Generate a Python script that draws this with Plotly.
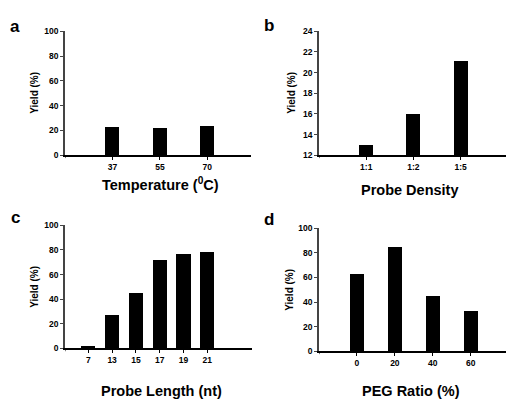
import plotly.graph_objects as go

W, H = 506, 405

# panel a: temperature
temp_labels = ["37", "55", "70"]
temp_yield = [22.5, 21.5, 23]

# panel b: probe density
density_labels = ["1:1", "1:2", "1:5"]
density_yield = [13, 16, 21.1]

# panel c: probe length
length_labels = ["7", "13", "15", "17", "19", "21"]
length_yield = [1, 26.5, 44.6, 71.5, 76.2, 78]

# panel d: PEG ratio
peg_labels = ["0", "20", "40", "60"]
peg_yield = [62.8, 84.3, 44.9, 32.7]

FONT = "Arial, Liberation Sans, sans-serif"


def px_x(x):
    return x / W


def px_y(y):
    return 1 - y / H


# (xaxis id, labels, values, x px span, y px span, x range, y range, y dtick, bar width,
#  x title, x title px pos, y title px pos, letter, letter px pos)
panels = [
    ("", temp_labels, temp_yield, (65, 251), (27, 154), [-1, 2.92], [0, 100], 20, 0.295,
     "Temperature (<sup>0</sup>C)", (160, 184), (35, 90), "a", (15, 22)),
    ("2", density_labels, density_yield, (319, 506), (27, 154), [-1, 2.96], [12, 24], 2, 0.296,
     "Probe Density", (410, 190), (292, 90), "b", (269, 21)),
    ("3", length_labels, length_yield, (65, 252), (226, 352), [-0.98, 6.88], [0, 100], 20, 0.59,
     "Probe Length (nt)", (161, 396), (35, 289), "c", (16, 218)),
    ("4", peg_labels, peg_yield, (319, 506), (229, 355), [-1, 3.93], [0, 100], 20, 0.376,
     "PEG Ratio (%)", (411, 396), (290, 292), "d", (269, 220)),
]

fig = go.Figure()
layout = {}
for ax, cats, vals, xs, ys, xr, yr, dt, bw, xtitle, xtpos, ytpos, letter, lpos in panels:
    fig.add_trace(go.Bar(x=cats, y=vals, width=bw, xaxis="x" + ax, yaxis="y" + ax,
                         marker=dict(color="black", line=dict(width=0)), showlegend=False))
    layout["xaxis" + ax] = dict(
        domain=[px_x(xs[0]), px_x(xs[1])], anchor="y" + ax, type="category",
        range=xr, showline=True, linecolor="black", linewidth=1.5,
        ticks="outside", ticklen=3, tickwidth=1, tickcolor="black",
        tickfont=dict(family=FONT, size=8.5, color="black", weight="bold"),
        showgrid=False, zeroline=False, fixedrange=True)
    layout["yaxis" + ax] = dict(
        domain=[px_y(ys[1]), px_y(ys[0])], anchor="x" + ax, range=yr, dtick=dt,
        tick0=yr[0], showline=True, linecolor="#444", linewidth=1.5,
        ticks="outside", ticklen=3, tickwidth=1, tickcolor="#444",
        tickfont=dict(family=FONT, size=8.5, color="black", weight="bold"),
        showgrid=False, zeroline=False, fixedrange=True)
    # small tick at the left end of the x axis
    fig.add_shape(type="line", xref="x" + ax, yref="paper", x0=xr[0], x1=xr[0],
                  y0=px_y(ys[1]), y1=px_y(ys[1] + 3), line=dict(color="black", width=1))
    fig.add_annotation(x=px_x(xtpos[0]), y=px_y(xtpos[1]), xref="paper", yref="paper",
                       text=xtitle, showarrow=False, xanchor="center", yanchor="middle",
                       font=dict(family=FONT, size=14.5, color="black", weight="bold"))
    fig.add_annotation(x=px_x(ytpos[0]), y=px_y(ytpos[1]), xref="paper", yref="paper",
                       text="Yield (%)", textangle=-90, showarrow=False,
                       xanchor="center", yanchor="middle",
                       font=dict(family=FONT, size=10, color="black", weight="bold"))
    fig.add_annotation(x=px_x(lpos[0]), y=px_y(lpos[1]), xref="paper", yref="paper",
                       text=letter, showarrow=False, xanchor="center", yanchor="middle",
                       font=dict(family=FONT, size=17, color="black", weight="bold"))

fig.update_layout(width=W, height=H, margin=dict(l=0, r=0, t=0, b=0),
                  plot_bgcolor="white", paper_bgcolor="white", bargap=0, **layout)
# the page's default body margin would push the figure off the window
fig.write_html("out.html", config={"displayModeBar": False},
               post_script="document.body.style.margin = '0';")
